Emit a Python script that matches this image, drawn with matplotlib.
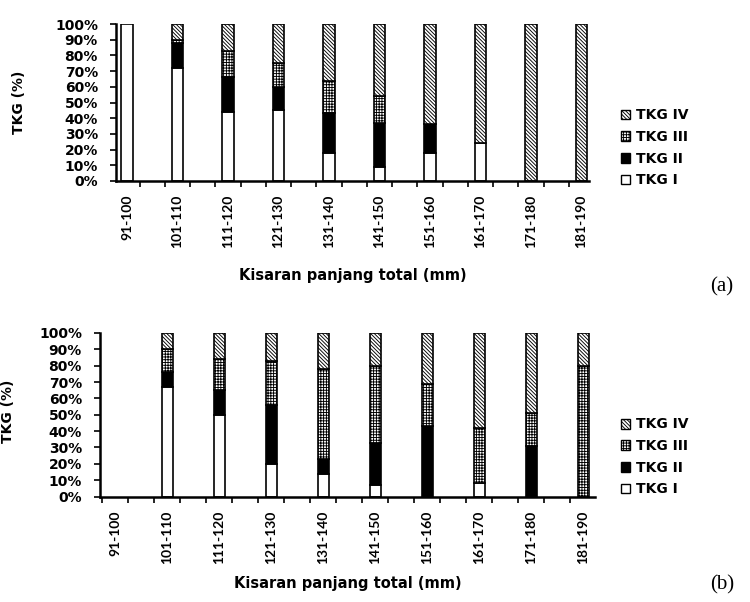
import matplotlib
matplotlib.use("Agg")
import matplotlib.pyplot as plt
import numpy as np
from matplotlib.patches import Patch
from matplotlib.ticker import FixedLocator, PercentFormatter

plt.rcParams['hatch.linewidth'] = 0.65
plt.rcParams['font.family'] = ['DejaVu Sans']

categories = ['91-100', '101-110', '111-120', '121-130', '131-140',
              '141-150', '151-160', '161-170', '171-180', '181-190']
series_names = ['TKG I', 'TKG II', 'TKG III', 'TKG IV']

a_I = [100, 72, 44, 45, 18, 9, 18, 24, 0, 0]
a_II = [0, 16, 22, 15, 25, 28, 18, 0, 0, 0]
a_III = [0, 2, 17, 15, 21, 17, 0, 0, 0, 0]
a_IV = [0, 10, 17, 25, 36, 46, 64, 76, 100, 100]

b_I = [0, 67, 50, 20, 14, 7, 0, 8, 0, 0]
b_II = [0, 9, 15, 36, 9, 26, 43, 0, 31, 0]
b_III = [0, 14, 19, 27, 55, 47, 26, 34, 20, 80]
b_IV = [0, 10, 16, 17, 22, 20, 31, 58, 49, 20]

styles = {
    'TKG I': dict(facecolor='white', hatch=None),
    'TKG II': dict(facecolor='black', hatch=None),
    'TKG III': dict(facecolor='white', hatch='++++++'),
    'TKG IV': dict(facecolor='white', hatch='\\' * 9),
}

fig = plt.figure(figsize=(7.5, 6.02), dpi=100)
ax_a = fig.add_axes([116/750, 1-181/602, 473/750, 157/602])
ax_b = fig.add_axes([100/750, 1-496.5/602, 495/750, 163.5/602])


def draw(ax, data, width, xlim, legend_y, xlabelpad, ylab_xy):
    x = np.arange(len(categories))
    bottom = np.zeros(len(categories))
    for name, vals in zip(series_names, data):
        v = np.array(vals, dtype=float)
        st = styles[name]
        mask = v > 0
        ax.bar(x[mask], v[mask], width, bottom=bottom[mask],
               facecolor=st['facecolor'], hatch=st['hatch'],
               edgecolor='black', linewidth=1.2)
        bottom += v
    ax.set_xlim(*xlim)
    ax.set_ylim(0, 100)
    ax.set_yticks(np.arange(0, 101, 10))
    ax.yaxis.set_major_formatter(PercentFormatter(decimals=0))
    ax.set_xticks(x)
    ax.set_xticklabels(categories, rotation=90, fontweight='bold', fontsize=10,
                       family=['Lato', 'DejaVu Sans'])
    ax.tick_params(axis='x', which='major', length=0, pad=10)
    ax.xaxis.set_minor_locator(FixedLocator(np.arange(-0.25, len(categories), 0.5)))
    ax.tick_params(axis='x', which='minor', length=4, width=1.2, direction='out')
    ax.tick_params(axis='y', length=4, width=1.2, direction='out', pad=9,
                   labelsize=10)
    for lab in ax.get_yticklabels():
        lab.set_fontweight('bold')
    for s in ['top', 'right']:
        ax.spines[s].set_visible(False)
    for s in ['left', 'bottom']:
        ax.spines[s].set_linewidth(1.8)
    ax.set_xlabel('Kisaran panjang total (mm)', fontweight='bold', fontsize=10.5,
                  labelpad=xlabelpad)
    ax.set_ylabel('TKG (%)', fontweight='bold', fontsize=10)
    ax.yaxis.set_label_coords(*ylab_xy)
    handles = []
    for name in reversed(series_names):
        st = styles[name]
        handles.append(Patch(facecolor=st['facecolor'], hatch=st['hatch'],
                             edgecolor='black', linewidth=1.0, label=name))
    fig.legend(handles=handles, loc='upper left',
               bbox_to_anchor=(608/750, legend_y), frameon=False,
               handlelength=0.7, handleheight=0.7, handletextpad=0.4,
               labelspacing=0.55,
               prop={'weight': 'bold', 'size': 10})


draw(ax_a, [a_I, a_II, a_III, a_IV], 0.23, (-0.22, 9.15), 1-96/602, 14,
     (-0.19, 0.5))
draw(ax_b, [b_I, b_II, b_III, b_IV], 0.21, (-0.29, 9.23), 1-405/602, 9,
     (-0.172, 0.52))

fig.text(722/750, 1-287/602, '(a)', family='Liberation Serif', fontsize=15,
         ha='center', va='center')
fig.text(722/750, 1-585/602, '(b)', family='Liberation Serif', fontsize=15,
         ha='center', va='center')

fig.savefig('out.png', dpi=100)
